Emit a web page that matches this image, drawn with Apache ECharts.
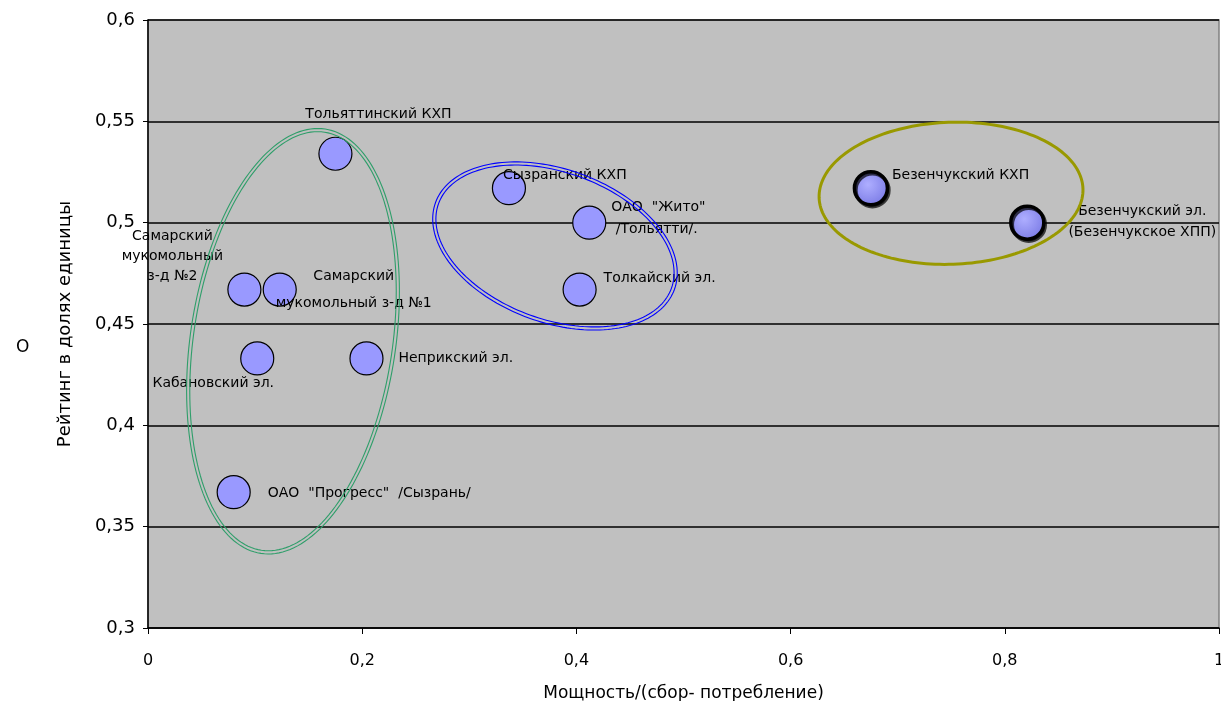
<!DOCTYPE html>
<html>
<head>
<meta charset="utf-8">
<script src="https://cdn.jsdelivr.net/npm/echarts@6/dist/echarts.min.js"></script>
<style>
html,body{margin:0;padding:0;background:#fff;}
#c{width:1221px;height:701px;}
</style>
</head>
<body>
<div id="c"></div>
<script>
// ---- data ----
const names = [
  'Тольяттинский КХП',
  'Самарский\nмукомольный\nз-д №2',
  'Самарский\nмукомольный з-д №1',
  'Кабановский эл.',
  'Неприкский эл.',
  'ОАО  "Прогресс"  /Сызрань/',
  'Сызранский КХП',
  'ОАО  "Жито"\n /Тольятти/.',
  'Толкайский эл.',
  'Безенчукский КХП',
  'Безенчукский эл.\n(Безенчукское ХПП)'
];
const power  = [0.175, 0.090, 0.123, 0.102, 0.204, 0.080, 0.337, 0.412, 0.403, 0.675, 0.821];
const rating = [0.534, 0.467, 0.467, 0.433, 0.433, 0.367, 0.517, 0.500, 0.467, 0.517, 0.500];
const xTicks = [0, 0.2, 0.4, 0.6, 0.8, 1];
const yTicks = [0.3, 0.35, 0.4, 0.45, 0.5, 0.55, 0.6];
// group ellipse centres (data units)
const groupX = [0.1354, 0.380, 0.7498];
const groupY = [0.4415, 0.4885, 0.5145];

// ---- styles (pixels) ----
const labelStyle = [
  {dx: 43, dy: -39, align: 'center'},
  {dx: -72, dy: -33, align: 'center', lh: 20},
  {dx: 74, dy: 0, align: 'center', lh: 27},
  {dx: -44, dy: 25, align: 'center'},
  {dx: 32, dy: 0, align: 'left'},
  {dx: 34, dy: 1, align: 'left'},
  {dx: -6, dy: -13, align: 'left'},
  {dx: 22, dy: -4, align: 'left', lh: 22},
  {dx: 24, dy: -11, align: 'left'},
  {dx: 21, dy: -13, align: 'left'},
  {dx: 115, dy: -1, align: 'center', lh: 21}
];
const shaded = [9, 10];
const ellipseStyle = [
  {a: 213, b: 101, phi: -81.4, color: '#2f9e6a', double: true},
  {a: 125.5, b: 75, phi: 20, color: '#0000ff', double: true},
  {a: 132, b: 71, phi: -2, color: '#999900', double: false}
];

const fmt = v => String(+v.toFixed(2)).replace('.', ',');
const FONT = 'DejaVu Sans, Verdana, sans-serif';

const pointData = names.map((n, i) => {
  const ls = labelStyle[i];
  const item = {
    name: n,
    value: [power[i], rating[i]],
    label: {
      show: true,
      position: 'inside',
      align: ls.align,
      verticalAlign: 'middle',
      offset: [ls.dx, ls.dy],
      lineHeight: ls.lh || 16
    }
  };
  if (shaded.indexOf(i) >= 0) {
    item.itemStyle = {
      color: {type: 'radial', x: 0.42, y: 0.4, r: 0.65,
        colorStops: [{offset: 0, color: '#aeaeff'}, {offset: 1, color: '#7878e4'}]},
      borderColor: '#000', borderWidth: 3.5,
      shadowColor: 'rgba(0,0,0,0.7)', shadowOffsetX: 1.5, shadowOffsetY: 2, shadowBlur: 0
    };
  }
  return item;
});

function ellipsePoints(cx, cy, a, b, phiDeg) {
  const phi = phiDeg * Math.PI / 180, c = Math.cos(phi), s = Math.sin(phi);
  const pts = [];
  for (let k = 0; k < 180; k++) {
    const t = k / 180 * 2 * Math.PI;
    const ex = a * Math.cos(t), ey = b * Math.sin(t);
    pts.push([cx + ex * c - ey * s, cy + ex * s + ey * c]);
  }
  return pts;
}

const chart = echarts.init(document.getElementById('c'), null, {renderer: 'canvas'});
chart.setOption({
  backgroundColor: '#ffffff',
  animation: false,
  textStyle: {fontFamily: FONT},
  grid: {
    left: 148, right: 2, top: 20, bottom: 73,
    outerBoundsMode: 'none', containLabel: false,
    show: true, backgroundColor: '#c0c0c0', borderColor: '#808080', borderWidth: 1.5
  },
  xAxis: {
    type: 'value', min: xTicks[0], max: xTicks[xTicks.length - 1], interval: 0.2,
    name: 'Мощность/(сбор- потребление)', nameLocation: 'middle', nameGap: 57,
    nameTextStyle: {fontSize: 17, color: '#000', fontFamily: FONT},
    axisLine: {show: true, lineStyle: {color: '#000', width: 1.5}},
    axisTick: {show: true, length: 6, lineStyle: {color: '#000'}},
    axisLabel: {formatter: fmt, fontSize: 16, color: '#000', margin: 25, fontFamily: FONT},
    splitLine: {show: false}
  },
  yAxis: {
    type: 'value', min: yTicks[0], max: yTicks[yTicks.length - 1], interval: 0.05,
    name: 'Рейтинг в долях единицы', nameLocation: 'middle', nameGap: 74, nameRotate: 90,
    nameTextStyle: {fontSize: 18, color: '#000', fontFamily: FONT},
    axisLine: {show: true, lineStyle: {color: '#000', width: 1.5}},
    axisTick: {show: true, length: 5, lineStyle: {color: '#000'}},
    axisLabel: {formatter: fmt, fontSize: 18, color: '#000', margin: 13, fontFamily: FONT},
    splitLine: {show: true, lineStyle: {color: '#000', width: 1.5}}
  },
  graphic: [{
    type: 'text', left: 16, top: 339,
    style: {text: 'О', fontSize: 17, fill: '#000', fontFamily: FONT}
  }],
  series: [
    {
      type: 'scatter',
      symbol: 'circle',
      symbolSize: 33,
      z: 3,
      itemStyle: {color: '#9999ff', borderColor: '#000', borderWidth: 1.2, opacity: 1},
      label: {fontSize: 14, color: '#000', fontFamily: FONT, formatter: p => p.name},
      emphasis: {disabled: true},
      data: pointData
    },
    {
      type: 'custom',
      z: 5,
      clip: false,
      silent: true,
      data: groupX.map((x, i) => [x, groupY[i]]),
      renderItem: function (params, api) {
        const st = ellipseStyle[params.dataIndex];
        const c = api.coord([api.value(0), api.value(1)]);
        const children = [];
        const offs = st.double ? [-1.6, 1.6] : [0];
        offs.forEach(o => {
          children.push({
            type: 'polygon',
            shape: {points: ellipsePoints(c[0], c[1], st.a + o, st.b + o, st.phi)},
            style: {fill: 'none', stroke: st.color, lineWidth: st.double ? 1.1 : 3}
          });
        });
        return {type: 'group', children: children};
      }
    }
  ]
});
</script>
</body>
</html>
